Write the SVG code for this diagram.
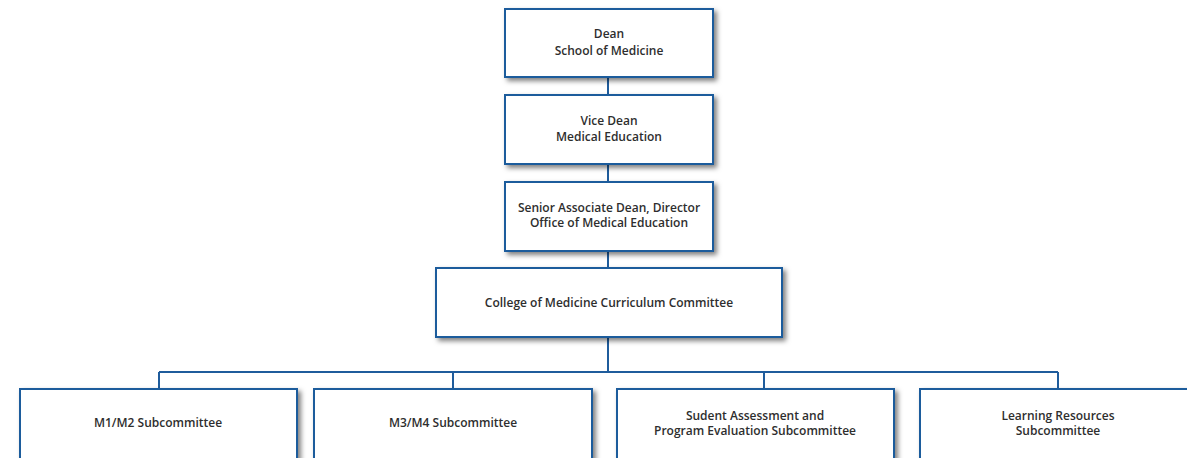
<svg xmlns="http://www.w3.org/2000/svg" width="1187" height="458" viewBox="0 0 1187 458">
<defs>
<filter id="sh" x="-10%" y="-20%" width="130%" height="150%">
<feDropShadow dx="3" dy="3" stdDeviation="2.5" flood-color="#000" flood-opacity="0.5"/>
</filter>
<style>
.box{fill:#fff;stroke:#1f5c9c;stroke-width:2;filter:url(#sh)}
.t{font-family:"Open Sans","Liberation Sans",sans-serif;font-weight:600;font-size:12px;fill:#2e2e2e;text-anchor:middle}
.c{fill:none;stroke:#1f5c9c;stroke-width:2}
</style>
</defs>
<rect width="1187" height="458" fill="#fff"/>
<g id="connectors">
<path class="c" d="M608 77V95M608 164V182M608 251V268M608 337V372M159 372H1058M159 372V389M453 372V389M764 372V389M1058 372V389"/>
</g>
<g id="dean">
<rect class="box" x="505" y="9" width="208" height="68"/>
<text class="t" x="609" y="38">Dean</text>
<text class="t" x="609" y="55">School of Medicine</text>
</g>
<g id="vicedean">
<rect class="box" x="505" y="95" width="208" height="69"/>
<text class="t" x="609" y="125">Vice Dean</text>
<text class="t" x="609" y="141">Medical Education</text>
</g>
<g id="senior">
<rect class="box" x="505" y="182" width="208" height="69"/>
<text class="t" x="609" y="212">Senior Associate Dean, Director</text>
<text class="t" x="609" y="227">Office of Medical Education</text>
</g>
<g id="college">
<rect class="box" x="436" y="268" width="346" height="69"/>
<text class="t" x="609" y="307">College of Medicine Curriculum Committee</text>
</g>
<g id="m1m2">
<rect class="box" x="20" y="389" width="277" height="80"/>
<text class="t" x="158" y="427">M1/M2 Subcommittee</text>
</g>
<g id="m3m4">
<rect class="box" x="314" y="389" width="278" height="80"/>
<text class="t" x="453" y="427">M3/M4 Subcommittee</text>
</g>
<g id="assessment">
<rect class="box" x="617" y="389" width="277" height="80"/>
<text class="t" x="755" y="420">Sudent Assessment and</text>
<text class="t" x="755" y="435">Program Evaluation Subcommittee</text>
</g>
<g id="learning">
<rect class="box" x="920" y="389" width="277" height="80"/>
<text class="t" x="1058" y="420">Learning Resources</text>
<text class="t" x="1058" y="435">Subcommittee</text>
</g>
</svg>
